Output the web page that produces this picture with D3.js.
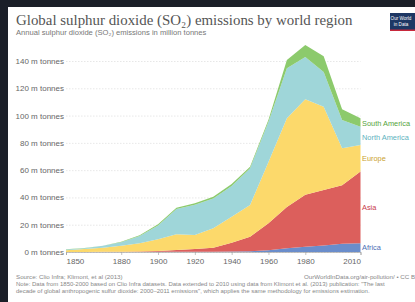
<!DOCTYPE html>
<html>
<head>
<meta charset="utf-8">
<script src="https://cdn.jsdelivr.net/npm/d3@7"></script>
<style>
  html, body { margin: 0; padding: 0; background: #1b1f28; }
  svg { display: block; }
</style>
</head>
<body>
<script>
// Data (million tonnes)
const years = [1850, 1860, 1870, 1880, 1890, 1900, 1910, 1920, 1930, 1940, 1950, 1960, 1970, 1980, 1990, 2000, 2010];
const regions = ["Africa", "Asia", "Europe", "North America", "South America"];
const africa = [0, 0, 0, 0, 0.05, 0.1, 0.1, 0.2, 0.2, 0.3, 0.5, 1.2, 2.7, 3.8, 4.8, 6, 6.4];
const asia = [0, 0.05, 0.1, 0.2, 0.25, 0.6, 1.4, 2, 3, 6.5, 10.7, 19.8, 30.3, 38.2, 40.7, 43, 52.6];
const europe = [1.2, 2.15, 3.1, 4.4, 6.1, 8.6, 11.5, 10.3, 14.2, 19.1, 23.3, 45, 65, 70, 61, 27, 19.5];
const northAmerica = [0.7, 0.6, 1.3, 2.5, 5.3, 10.2, 18.5, 22.2, 21.9, 22.5, 26.8, 29.5, 36.6, 31, 25.5, 20.8, 13.3];
const southAmerica = [0.1, 0.1, 0.1, 0.4, 0.6, 0.8, 1, 1, 1.2, 1.4, 1.2, 1.5, 6.2, 8.8, 11.5, 7.8, 6.2];
const yTicks = [0, 20, 40, 60, 80, 100, 120, 140];
const xTicks = [1850, 1880, 1900, 1920, 1940, 1960, 1980, 2010];

const fills = ["#6a8dcb", "#dc5f5c", "#fcd96b", "#9fd6d9", "#8cca6c"];
const labelColors = ["#4c6fb5", "#c83a4a", "#caa12e", "#5db2be", "#55a43c"];

const width = 415;
const height = 302;

const table = years.map((y, i) => ({
    year: y,
    "Africa": africa[i],
    "Asia": asia[i],
    "Europe": europe[i],
    "North America": northAmerica[i],
    "South America": southAmerica[i]
}));

const svg = d3.select("body")
    .append("svg")
    .attr("width", width)
    .attr("height", height);

// white card on dark page
svg.append("rect")
    .attr("x", 8)
    .attr("y", 7)
    .attr("width", width - 8)
    .attr("height", height - 7)
    .attr("fill", "#ffffff");

const xScale = d3.scaleLinear()
    .domain([1850, 2010])
    .range([66, 360.5]);

const yScale = d3.scaleLinear()
    .domain([0, 140])
    .range([252, 61]);

// Title + subtitle
svg.append("text")
    .attr("x", 16)
    .attr("y", 25)
    .style("font-family", "'Liberation Serif', serif")
    .style("font-size", "14.9px")
    .attr("fill", "#555555")
    .text("Global sulphur dioxide (SO₂) emissions by world region");

svg.append("text")
    .attr("x", 16)
    .attr("y", 34.5)
    .style("font-family", "'Liberation Sans', Arial, sans-serif")
    .style("font-size", "7.6px")
    .attr("fill", "#777777")
    .text("Annual sulphur dioxide (SO₂) emissions in million tonnes");

// Logo
const logo = svg.append("g").attr("transform", "translate(390, 13)");
logo.append("rect").attr("width", 30).attr("height", 18).attr("fill", "#1d3764");
logo.append("rect").attr("y", 16.5).attr("width", 30).attr("height", 1.5).attr("fill", "#c8283b");
logo.append("text").attr("x", 11).attr("y", 7)
    .attr("text-anchor", "middle")
    .style("font-family", "'Liberation Sans', sans-serif")
    .style("font-size", "4.6px").attr("fill", "#fff").text("Our World");
logo.append("text").attr("x", 11).attr("y", 12.5)
    .attr("text-anchor", "middle")
    .style("font-family", "'Liberation Sans', sans-serif")
    .style("font-size", "4.6px").attr("fill", "#fff").text("in Data");

// Y gridlines and labels
const yAxis = svg.append("g")
    .attr("transform", "translate(66, 0)")
    .call(d3.axisLeft(yScale)
        .tickValues(yTicks)
        .tickSize(-(360.5 - 66))
        .tickFormat(d => d + " m tonnes"));
yAxis.select(".domain").remove();
yAxis.selectAll(".tick line")
    .attr("stroke", "#dddddd")
    .attr("stroke-dasharray", "1.5,1.5")
    .attr("stroke-width", 0.7);
yAxis.selectAll(".tick text")
    .attr("x", -2)
    .style("font-family", "'Liberation Sans', Arial, sans-serif")
    .style("font-size", "8px")
    .attr("fill", "#666666");

// Stacked areas
const stack = d3.stack().keys(regions);
const series = stack(table);

const area = d3.area()
    .x(d => xScale(d.data.year))
    .y0(d => yScale(d[0]))
    .y1(d => yScale(d[1]));

svg.append("g")
    .selectAll("path")
    .data(series)
    .enter()
    .append("path")
    .attr("d", area)
    .attr("fill", (d, i) => fills[i]);

// X axis
const xAxis = svg.append("g")
    .attr("transform", "translate(0, 252)")
    .call(d3.axisBottom(xScale)
        .tickValues(xTicks)
        .tickSize(3)
        .tickFormat(d => d));
xAxis.select(".domain").attr("stroke", "#999999").attr("stroke-width", 0.6);
xAxis.selectAll(".tick line").attr("stroke", "#999999").attr("stroke-width", 0.6);
xAxis.selectAll(".tick text")
    .attr("y", 6)
    .style("font-family", "'Liberation Sans', Arial, sans-serif")
    .style("font-size", "8px")
    .attr("fill", "#666666")
    .attr("text-anchor", d => d === 1850 ? "start" : d === 2010 ? "end" : "middle");

// Region labels at right
const labelY = [247, 207, 158, 137, 123];
svg.append("g")
    .selectAll("text")
    .data(regions)
    .enter()
    .append("text")
    .attr("x", 362)
    .attr("y", (d, i) => labelY[i])
    .attr("dy", "0.35em")
    .style("font-family", "'Liberation Sans', Arial, sans-serif")
    .style("font-size", "7.4px")
    .attr("fill", (d, i) => labelColors[i])
    .text(d => d);

// Footer
const foot = svg.append("g")
    .style("font-family", "'Liberation Sans', Arial, sans-serif")
    .style("font-size", "6px")
    .attr("fill", "#888888");
foot.append("text").attr("x", 16).attr("y", 279)
    .style("font-size", "6.2px")
    .text("Source: Clio Infra; Klimont, et al (2013)");
foot.append("text").attr("x", 304).attr("y", 279)
    .style("font-size", "6.2px")
    .text("OurWorldInData.org/air-pollution/ • CC BY");
foot.append("text").attr("x", 16).attr("y", 286)
    .text("Note: Data from 1850-2000 based on Clio Infra datasets. Data extended to 2010 using data from Klimont et al. (2013) publication: \"The last");
foot.append("text").attr("x", 16).attr("y", 293)
    .text("decade of global anthropogenic sulfur dioxide: 2000–2011 emissions\", which applies the same methodology for emissions estimation.");
</script>
</body>
</html>
